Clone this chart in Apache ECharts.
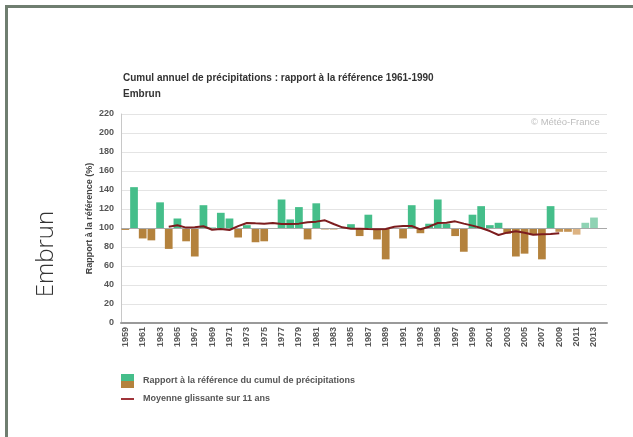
<!DOCTYPE html>
<html>
<head>
<meta charset="utf-8">
<script src="https://cdn.jsdelivr.net/npm/echarts@6/dist/echarts.min.js"></script>
<style>
  html, body { margin: 0; padding: 0; background: #fff; }
  #frame { position: absolute; left: 5px; top: 5px; width: 628px; height: 432px;
           border-left: 3px solid #6f7e70; border-top: 3px solid #6f7e70; box-sizing: border-box; }
  #chart { position: absolute; left: 0; top: 0; width: 633px; height: 437px; }
</style>
</head>
<body>
<div id="frame"></div>
<div id="chart"></div>
<script>
const years = [];
for (let y = 1959; y <= 2014; y++) years.push(String(y));

// rapport à la référence 1961-1990 (%)
const ratio = [
  98, 143, 89, 87, 127, 78, 110, 86, 70, 124,
  100.5, 116, 110, 90, 103, 85, 86, 100, 130, 109,
  122, 88, 126, 98.5, 98.5, 100, 104, 91.5, 114, 88,
  67, 100, 89, 124, 94.5, 104.5, 130, 104.5, 91.5, 75,
  114, 123, 103, 105.5, 94, 70, 73, 92.5, 67, 123,
  96, 96, 93, 105.5, 111, null
];

// moyenne glissante sur 11 ans
const movingAvg = [
  null, null, null, null, null, 101.4, 102.8, 100.4, 100.7, 101.8,
  98.2, 98.9, 97.9, 102, 105.3, 104.9, 104.6, 105.3, 104.2, 104.2,
  104.6, 106, 106.7, 108.1, 104.2, 100.7, 99.3, 99.3, 98.9, 98.6,
  98.9, 101.4, 102.1, 102.1, 98.6, 101.4, 105.3, 105.6, 107, 104.6,
  102.5, 100, 96.8, 92.6, 95.1, 96.5, 95.1, 92.9, 93.3, 93.7,
  94.4, null, null, null, null, null
];

// années provisoires (couleur atténuée)
const palestYears = ['2011', '2012', '2013'];
const midYears = ['2009', '2010'];

const chart = echarts.init(document.getElementById('chart'), null, { renderer: 'canvas' });

const base = ratio.map(v => v == null ? null : Math.min(v, 100));
const delta = ratio.map((v, i) => {
  if (v == null) return null;
  const yr = years[i];
  let color;
  if (v >= 100) color = palestYears.includes(yr) ? '#8fd3b4' : '#45be8a';
  else if (palestYears.includes(yr)) color = '#ddb382';
  else if (midYears.includes(yr)) color = '#c39252';
  else color = '#b4823d';
  return { value: Math.abs(v - 100), itemStyle: { color } };
});

const font = 'Arial, "Liberation Sans", sans-serif';

chart.setOption({
  animation: false,
  textStyle: { fontFamily: font },
  title: [
    {
      text: 'Cumul annuel de précipitations : rapport à la référence 1961-1990',
      subtext: 'Embrun',
      left: 118, top: 68, itemGap: 6,
      textStyle: { fontSize: 10, fontWeight: 'bold', color: '#333', fontFamily: font },
      subtextStyle: { fontSize: 10, fontWeight: 'bold', color: '#333', fontFamily: font },
    },
  ],
  grid: { left: 121, right: 26, top: 114, bottom: 114 },
  xAxis: {
    type: 'category',
    data: years,
    axisTick: { show: false },
    axisLine: { lineStyle: { color: '#9a9a9a', width: 2 } },
    axisLabel: {
      interval: 1, rotate: 90, fontSize: 9, fontWeight: 'bold', color: '#555', margin: 4,
    },
  },
  yAxis: {
    type: 'value',
    min: 0, max: 220, interval: 20,
    name: 'Rapport à la référence (%)',
    nameLocation: 'middle', nameGap: 27, nameMoveOverlap: false,
    nameTextStyle: { fontSize: 9, fontWeight: 'bold', color: '#444' },
    axisLine: { show: true, lineStyle: { color: '#c8c8c8' } },
    axisTick: { show: false },
    axisLabel: { fontSize: 9, fontWeight: 'bold', color: '#555', margin: 7 },
    splitLine: { lineStyle: { color: '#e4e4e4' } },
  },
  series: [
    {
      type: 'bar', stack: 'r', data: base, silent: true,
      itemStyle: { color: 'transparent' }, barCategoryGap: '11%',
    },
    {
      type: 'bar', stack: 'r', data: delta,
      markLine: {
        silent: true, symbol: 'none', label: { show: false },
        lineStyle: { color: '#a8a8a8', type: 'solid', width: 1 },
        data: [{ yAxis: 100 }],
      },
    },
    {
      type: 'line', data: movingAvg, symbol: 'none', smooth: false, z: 5,
      lineStyle: { color: '#7c1c1e', width: 2 },
    },
  ],
  graphic: [
    {
      type: 'text', left: 531, top: 117,
      style: { text: '© Météo-France', fontSize: 9.5, fill: '#bdbdbd', fontFamily: font },
    },
    {
      type: 'text', x: 46, y: 254, rotation: Math.PI / 2,
      style: { text: 'Embrun', fontSize: 24, fill: '#333', fontFamily: '"Open Sans", sans-serif',
               fontWeight: 300, align: 'center', verticalAlign: 'middle' },
    },
    { type: 'rect', shape: { x: 121, y: 374, width: 13, height: 7 }, style: { fill: '#45be8a' } },
    { type: 'rect', shape: { x: 121, y: 381, width: 13, height: 7 }, style: { fill: '#b4823d' } },
    {
      type: 'text', x: 143, y: 381,
      style: { text: 'Rapport à la référence du cumul de précipitations', fontSize: 9, fontWeight: 'bold',
               fill: '#555', fontFamily: font, verticalAlign: 'middle' },
    },
    { type: 'rect', shape: { x: 121, y: 398, width: 13, height: 2 }, style: { fill: '#a0343a' } },
    {
      type: 'text', x: 143, y: 399,
      style: { text: 'Moyenne glissante sur 11 ans', fontSize: 9, fontWeight: 'bold',
               fill: '#555', fontFamily: font, verticalAlign: 'middle' },
    },
  ],
});
</script>
</body>
</html>
